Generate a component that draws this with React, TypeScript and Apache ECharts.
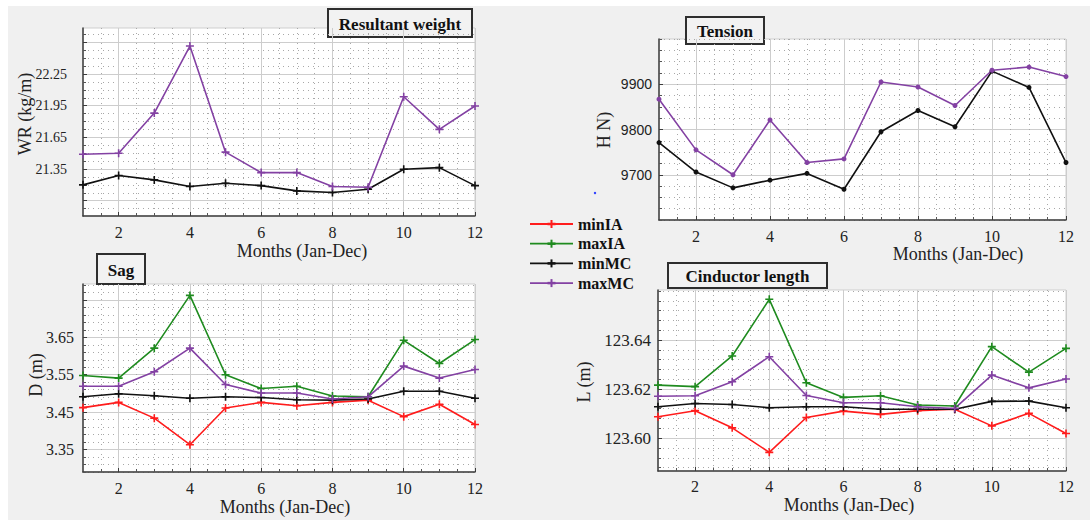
import React, { useEffect, useRef } from "react";
import * as echarts from "echarts";

// ---- data ----
const months = [1, 2, 3, 4, 5, 6, 7, 8, 9, 10, 11, 12];
const monthTicks = [2, 4, 6, 8, 10, 12];

// Resultant weight WR (kg/m)
const wrMinMC = [21.2, 21.288, 21.247, 21.184, 21.215, 21.193, 21.143, 21.127, 21.159, 21.348, 21.363, 21.193];
const wrMaxMC = [21.49, 21.5, 21.88, 22.515, 21.51, 21.316, 21.316, 21.184, 21.177, 22.035, 21.726, 21.947];
const wrTicks = [21.35, 21.65, 21.95, 22.25];
const wrGrid = [21.05, 21.35, 21.65, 21.95, 22.25, 22.55];

// Tension H (N)
const hMinMC = [9771, 9706, 9671, 9688, 9703, 9668, 9795, 9842, 9806, 9929, 9893, 9727];
const hMaxMC = [9867, 9755, 9700, 9821, 9727, 9735, 9905, 9894, 9853, 9931, 9938, 9917];
const hTicks = [9700, 9800, 9900];

// Sag D (m)
const dMinIA = [3.462, 3.476, 3.434, 3.363, 3.461, 3.476, 3.467, 3.476, 3.482, 3.438, 3.471, 3.417];
const dMaxIA = [3.548, 3.541, 3.621, 3.762, 3.55, 3.513, 3.519, 3.493, 3.491, 3.642, 3.58, 3.644];
const dMinMC = [3.491, 3.499, 3.494, 3.487, 3.491, 3.489, 3.483, 3.482, 3.485, 3.506, 3.506, 3.487];
const dMaxMC = [3.519, 3.519, 3.558, 3.621, 3.524, 3.501, 3.501, 3.485, 3.491, 3.573, 3.541, 3.564];
const dTicks = [3.35, 3.45, 3.55, 3.65];
const dGrid = [3.35, 3.45, 3.55, 3.65, 3.75];

// Conductor length L (m)
const lMinIA = [123.6087, 123.6112, 123.6042, 123.5942, 123.6084, 123.611, 123.6097, 123.6112, 123.6118, 123.605, 123.6101, 123.6019];
const lMaxIA = [123.6216, 123.621, 123.6335, 123.6566, 123.6226, 123.6166, 123.6173, 123.6135, 123.6131, 123.6373, 123.6269, 123.6366];
const lMinMC = [123.6128, 123.6141, 123.6137, 123.6124, 123.6128, 123.6128, 123.6118, 123.6118, 123.6118, 123.615, 123.6151, 123.6124];
const lMaxMC = [123.6171, 123.6173, 123.623, 123.6332, 123.6174, 123.6144, 123.6144, 123.6128, 123.6121, 123.6257, 123.6205, 123.6241];
const lTicks = [123.6, 123.62, 123.64];

const seriesNames = ["minIA", "maxIA", "minMC", "maxMC"];

// ---- styling ----
const COLORS: Record<string, string> = {
  minIA: "#ff1c1c",
  maxIA: "#1f8b1f",
  minMC: "#111111",
  maxMC: "#8341a3",
};
const SERIF = "'Liberation Serif', 'Times New Roman', serif";
const SANS = "'Liberation Sans', Arial, sans-serif";
const PLUS = "path://M4,0 L6,0 L6,4 L10,4 L10,6 L6,6 L6,10 L4,10 L4,6 L0,6 L0,4 L4,4 Z";

// positions between majors, spaced by `step` starting from `anchor`
function minorValues(anchor: number, step: number, lo: number, hi: number, majors: number[]) {
  const out: number[] = [];
  const kLo = Math.ceil((lo - anchor) / step - 1e-9);
  const kHi = Math.floor((hi - anchor) / step + 1e-9);
  for (let k = kLo; k <= kHi; k++) {
    const v = +(anchor + k * step).toFixed(6);
    if (!majors.some((m) => Math.abs(m - v) < step * 0.1)) out.push(v);
  }
  return out;
}

type Panel = {
  grid: { left: number; top: number; width: number; height: number };
  yMin: number;
  yMax: number;
  yLabels: number[];
  yMajors: number[];
  yMinorStep: number;
  yDecimals: number;
  yLabelMargin: number;
  yLabelFont: number;
  yLabelFamily: string;
  xLabelMargin: number;
  symbol: string;
  symbolSize: number;
  lines: { name: string; values: number[] }[];
  title: { text: string; x: number; y: number; w: number; h: number };
  yName: { text: string; x: number; y: number };
  xName: { x: number; y: number };
};

const panels: Panel[] = [
  {
    grid: { left: 83, top: 28, width: 392, height: 188 },
    yMin: 20.905,
    yMax: 22.686,
    yLabels: wrTicks,
    yMajors: wrGrid,
    yMinorStep: 0.075,
    yDecimals: 2,
    yLabelMargin: 16,
    yLabelFont: 14,
    yLabelFamily: SERIF,
    xLabelMargin: 8,
    symbol: PLUS,
    symbolSize: 8,
    lines: [
      { name: "minMC", values: wrMinMC },
      { name: "maxMC", values: wrMaxMC },
    ],
    title: { text: "Resultant weight", x: 328, y: 9, w: 144, h: 28 },
    yName: { text: "WR (kg/m)", x: 25, y: 114 },
    xName: { x: 302, y: 251 },
  },
  {
    grid: { left: 659, top: 39, width: 407, height: 181 },
    yMin: 9600,
    yMax: 10000,
    yLabels: hTicks,
    yMajors: hTicks,
    yMinorStep: 25,
    yDecimals: 0,
    yLabelMargin: 7,
    yLabelFont: 14,
    yLabelFamily: SANS,
    xLabelMargin: 8,
    symbol: "circle",
    symbolSize: 5,
    lines: [
      { name: "minMC", values: hMinMC },
      { name: "maxMC", values: hMaxMC },
    ],
    title: { text: "Tension", x: 686, y: 17, w: 78, h: 27 },
    yName: { text: "H N)", x: 604, y: 130 },
    xName: { x: 958, y: 254 },
  },
  {
    grid: { left: 83, top: 284, width: 392, height: 188 },
    yMin: 3.29,
    yMax: 3.7925,
    yLabels: dTicks,
    yMajors: dGrid,
    yMinorStep: 0.02,
    yDecimals: 2,
    yLabelMargin: 9,
    yLabelFont: 16,
    yLabelFamily: SERIF,
    xLabelMargin: 8,
    symbol: PLUS,
    symbolSize: 8,
    lines: [
      { name: "minIA", values: dMinIA },
      { name: "maxIA", values: dMaxIA },
      { name: "minMC", values: dMinMC },
      { name: "maxMC", values: dMaxMC },
    ],
    title: { text: "Sag", x: 97, y: 254, w: 48, h: 30 },
    yName: { text: "D (m)", x: 36, y: 375 },
    xName: { x: 285, y: 507 },
  },
  {
    grid: { left: 658, top: 290, width: 408, height: 181 },
    yMin: 123.5866,
    yMax: 123.6604,
    yLabels: lTicks,
    yMajors: lTicks,
    yMinorStep: 0.004,
    yDecimals: 2,
    yLabelMargin: 7,
    yLabelFont: 17,
    yLabelFamily: SERIF,
    xLabelMargin: 7,
    symbol: PLUS,
    symbolSize: 8,
    lines: [
      { name: "minIA", values: lMinIA },
      { name: "maxIA", values: lMaxIA },
      { name: "minMC", values: lMinMC },
      { name: "maxMC", values: lMaxMC },
    ],
    title: { text: "Cinductor length", x: 668, y: 263, w: 159, h: 25 },
    yName: { text: "L (m)", x: 584, y: 382 },
    xName: { x: 849, y: 505 },
  },
];

const AXIS_DARK = "#3c3c3c";
const GRID_SOLID = "#cdcdcd";
const GRID_DOT = "#a8a8a8";

function buildOption() {
  const grids: any[] = [];
  const xAxes: any[] = [];
  const yAxes: any[] = [];
  const series: any[] = [];
  const graphics: any[] = [];

  const xMinor = minorValues(1, 0.5, 1, 12, [1, ...monthTicks]);

  panels.forEach((p, i) => {
    grids.push({
      ...p.grid,
      show: true,
      backgroundColor: "#ffffff",
      borderColor: "#cfcfcf",
      borderWidth: 1,
      containLabel: false,
    });

    // major x axis: labelled, solid grid
    xAxes.push({
      type: "value",
      gridIndex: i,
      min: 1,
      max: 12,
      position: "bottom",
      axisLine: { show: true, onZero: false, lineStyle: { color: AXIS_DARK, width: 1.5 } },
      axisTick: { show: true, inside: true, length: 4, customValues: monthTicks, lineStyle: { color: AXIS_DARK } },
      axisLabel: {
        customValues: monthTicks,
        margin: p.xLabelMargin,
        fontFamily: SERIF,
        fontSize: 16,
        color: "#222",
      },
      splitLine: { show: true, lineStyle: { color: GRID_SOLID, width: 1 } },
    });
    // minor x axis: dotted grid
    xAxes.push({
      type: "value",
      gridIndex: i,
      min: 1,
      max: 12,
      position: "bottom",
      axisLine: { show: false, onZero: false },
      axisTick: { show: true, inside: true, length: 3, customValues: xMinor, lineStyle: { color: "#555" } },
      axisLabel: { show: false },
      splitLine: { show: true, lineStyle: { color: GRID_DOT, width: 1, type: [1, 4] } },
    });

    const yMinor = minorValues(p.yMajors[0], p.yMinorStep, p.yMin, p.yMax, p.yMajors);
    yAxes.push({
      type: "value",
      gridIndex: i,
      min: p.yMin,
      max: p.yMax,
      position: "left",
      axisLine: { show: true, lineStyle: { color: AXIS_DARK, width: 1.5 } },
      axisTick: { show: true, inside: true, length: 4, customValues: p.yMajors, lineStyle: { color: AXIS_DARK } },
      axisLabel: {
        customValues: p.yLabels,
        margin: p.yLabelMargin,
        fontFamily: p.yLabelFamily,
        fontSize: p.yLabelFont,
        color: "#222",
        formatter: (v: number) => v.toFixed(p.yDecimals),
      },
      splitLine: { show: true, lineStyle: { color: GRID_SOLID, width: 1 } },
    });
    yAxes.push({
      type: "value",
      gridIndex: i,
      min: p.yMin,
      max: p.yMax,
      position: "left",
      axisLine: { show: false },
      axisTick: { show: true, inside: true, length: 3, customValues: yMinor, lineStyle: { color: "#555" } },
      axisLabel: { show: false },
      splitLine: { show: true, lineStyle: { color: GRID_DOT, width: 1, type: [1, 4] } },
    });

    p.lines.forEach((ln) => {
      series.push({
        type: "line",
        name: ln.name,
        xAxisIndex: i * 2,
        yAxisIndex: i * 2,
        data: months.map((m, k) => [m, ln.values[k]]),
        symbol: p.symbol,
        symbolSize: p.symbolSize,
        showAllSymbol: true,
        lineStyle: { color: COLORS[ln.name], width: 1.6 },
        itemStyle: { color: COLORS[ln.name] },
        z: 5,
      });
    });

    // title box
    graphics.push({
      type: "group",
      z: 100,
      children: [
        {
          type: "rect",
          shape: { x: p.title.x, y: p.title.y, width: p.title.w, height: p.title.h },
          style: { fill: "#f2f2f2", stroke: "#2e2e2e", lineWidth: 2 },
        },
        {
          type: "text",
          x: p.title.x + p.title.w / 2,
          y: p.title.y + p.title.h / 2 + 1,
          style: {
            text: p.title.text,
            font: `bold 17px ${SERIF}`,
            fill: "#111",
            align: "center",
            verticalAlign: "middle",
          },
        },
      ],
    });
    // axis names
    graphics.push({
      type: "text",
      z: 100,
      x: p.yName.x,
      y: p.yName.y,
      rotation: Math.PI / 2,
      style: {
        text: p.yName.text,
        font: `18px ${SERIF}`,
        fill: "#222",
        align: "center",
        verticalAlign: "middle",
      },
    });
    graphics.push({
      type: "text",
      z: 100,
      x: p.xName.x,
      y: p.xName.y,
      style: {
        text: "Months (Jan-Dec)",
        font: `18px ${SERIF}`,
        fill: "#222",
        align: "center",
        verticalAlign: "middle",
      },
    });
  });

  // legend
  const legendX = 530;
  const legendY = 224;
  seriesNames.forEach((name, k) => {
    const y = legendY + k * 19.7;
    const c = COLORS[name];
    graphics.push({
      type: "group",
      z: 100,
      children: [
        { type: "line", shape: { x1: legendX, y1: y, x2: legendX + 43, y2: y }, style: { stroke: c, lineWidth: 1.8 } },
        { type: "line", shape: { x1: legendX + 21.5, y1: y - 4, x2: legendX + 21.5, y2: y + 4 }, style: { stroke: c, lineWidth: 2 } },
        { type: "line", shape: { x1: legendX + 17.5, y1: y, x2: legendX + 25.5, y2: y }, style: { stroke: c, lineWidth: 2.5 } },
        {
          type: "text",
          x: legendX + 48,
          y: y,
          style: { text: name, font: `bold 16px ${SERIF}`, fill: "#111", align: "left", verticalAlign: "middle" },
        },
      ],
    });
  });

  // small stray blue dot
  graphics.push({ type: "circle", z: 100, shape: { cx: 595, cy: 193, r: 1.2 }, style: { fill: "#2a3cff" } });

  return {
    animation: false,
    grid: grids,
    xAxis: xAxes,
    yAxis: yAxes,
    series,
    graphic: graphics,
  };
}

export default function App() {
  const ref = useRef<HTMLDivElement>(null);

  useEffect(() => {
    if (!ref.current) return;
    const chart = echarts.init(ref.current, undefined, { renderer: "svg" });
    chart.setOption(buildOption() as any);
    return () => chart.dispose();
  }, []);

  return (
    <div style={{ position: "absolute", left: 0, top: 0, width: 1090, height: 523, background: "#ffffff" }}>
      <div style={{ position: "absolute", left: 8, top: 6, width: 1082, height: 514, background: "#f0f0f0" }} />
      <div ref={ref} style={{ position: "absolute", left: 0, top: 0, width: 1090, height: 523 }} />
    </div>
  );
}
